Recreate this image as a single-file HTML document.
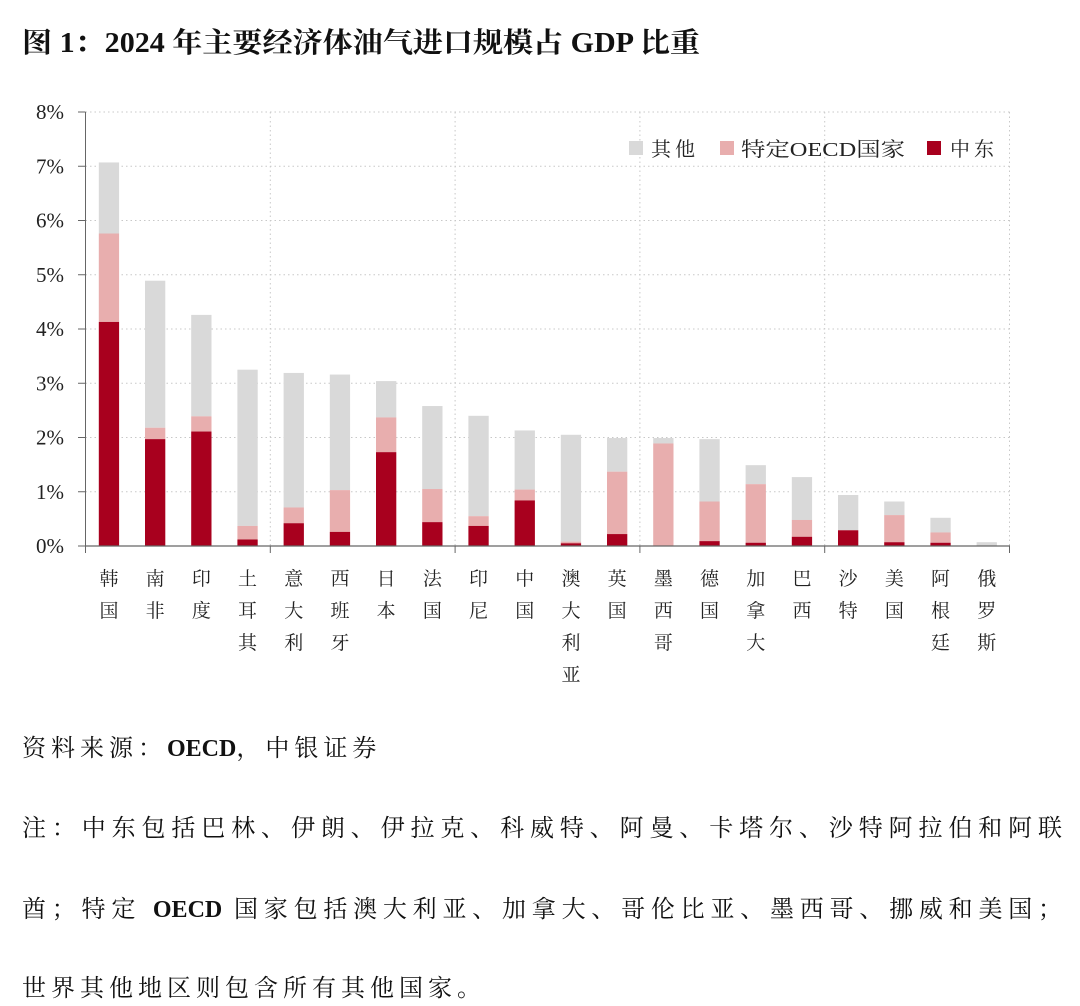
<!DOCTYPE html>
<html><head><meta charset="utf-8"><style>
html,body{margin:0;padding:0;background:#fff;}
body{width:1080px;height:1006px;overflow:hidden;position:relative;}
svg{position:absolute;left:0;top:0;}
.ft{position:absolute;left:22px;font-family:"Liberation Serif","Noto Serif CJK SC",serif;font-size:24px;color:#111;letter-spacing:5px;white-space:nowrap;}
.j{width:1040px;text-align:justify;text-align-last:justify;letter-spacing:0;}
b{font-weight:bold;letter-spacing:0;}
</style></head><body>
<svg width="1080" height="1006" xmlns="http://www.w3.org/2000/svg" font-family="'Liberation Serif','Noto Serif CJK SC',serif">
<text x="22" y="52" font-size="28" font-weight="bold" textLength="678" lengthAdjust="spacingAndGlyphs" fill="#111">图 1：2024 年主要经济体油气进口规模占 GDP 比重</text>
<g id="chart"></g>
</svg>
<div class="ft" style="top:728px;">资料来源：<b>OECD</b>，中银证券</div>
<div class="ft j" style="top:808px;">注：中东包括巴林、伊朗、伊拉克、科威特、阿曼、卡塔尔、沙特阿拉伯和阿联</div>
<div class="ft j" style="top:889px;">酋；特定 <b>OECD</b> 国家包括澳大利亚、加拿大、哥伦比亚、墨西哥、挪威和美国；</div>
<div class="ft" style="top:968px;">世界其他地区则包含所有其他国家。</div>
<script>
var g=document.getElementById('chart'),s='';
var y0=546,k=54.25,x0=85.5,cw=46.2,xe=1010;
for(var i=1;i<=8;i++){var y=y0-i*k;s+='<line x1="'+x0+'" x2="'+xe+'" y1="'+y+'" y2="'+y+'" stroke="#c8c8c8" stroke-width="1" stroke-dasharray="1.5,3"/>';}
for(var j=1;j<=5;j++){var x=x0+j*4*cw;s+='<line x1="'+x+'" x2="'+x+'" y1="'+(y0-8*k)+'" y2="'+y0+'" stroke="#c8c8c8" stroke-width="1" stroke-dasharray="1.5,3"/>';s+='<line x1="'+x+'" x2="'+x+'" y1="'+y0+'" y2="'+(y0+7)+'" stroke="#666"/>';}
for(var i=0;i<=8;i++){var y=y0-i*k;s+='<line x1="78" x2="'+x0+'" y1="'+y+'" y2="'+y+'" stroke="#666"/>';s+='<text x="64" y="'+(y+7)+'" font-size="21" text-anchor="end" fill="#222">'+i+'%</text>';}
var d=[["韩国",4.13,5.76,7.07],["南非",1.97,2.18,4.89],["印度",2.11,2.39,4.26],["土耳其",0.12,0.37,3.25],["意大利",0.42,0.71,3.19],["西班牙",0.26,1.03,3.16],["日本",1.73,2.37,3.04],["法国",0.44,1.05,2.58],["印尼",0.37,0.55,2.40],["中国",0.84,1.04,2.13],["澳大利亚",0.05,0.08,2.05],["英国",0.22,1.37,1.99],["墨西哥",0,1.89,1.99],["德国",0.09,0.82,1.97],["加拿大",0.06,1.14,1.49],["巴西",0.17,0.48,1.27],["沙特",0.29,0.29,0.94],["美国",0.07,0.57,0.82],["阿根廷",0.06,0.25,0.52],["俄罗斯",0,0,0.07]];
d.forEach(function(r,i){var x=x0+13.3+i*cw,w=20.3,cx=x+w/2;
 function b(a,bb,c){if(bb>a)s+='<rect x="'+x+'" y="'+(y0-bb*k)+'" width="'+w+'" height="'+((bb-a)*k)+'" fill="'+c+'"/>';}
 b(r[2],r[3],'#d9d9d9');b(r[1],r[2],'#e8aeae');b(0,r[1],'#a8001e');
 for(var c=0;c<r[0].length;c++)s+='<text x="'+cx+'" y="'+(585+c*32)+'" font-size="19" text-anchor="middle" fill="#222">'+r[0][c]+'</text>';
});
s+='<line x1="'+x0+'" x2="'+x0+'" y1="'+(y0-8*k)+'" y2="'+y0+'" stroke="#666"/>';
s+='<line x1="'+x0+'" x2="'+xe+'" y1="'+y0+'" y2="'+y0+'" stroke="#666" stroke-width="1.2"/>';
s+='<line x1="'+x0+'" x2="'+x0+'" y1="'+y0+'" y2="'+(y0+7)+'" stroke="#666"/>';
s+='<rect x="629" y="141" width="14" height="14" fill="#d9d9d9"/><text x="651" y="156" font-size="20" fill="#222" letter-spacing="4">其他</text>';
s+='<rect x="720" y="141" width="14" height="14" fill="#e8aeae"/><text x="741" y="156" font-size="20" fill="#222" textLength="164" lengthAdjust="spacingAndGlyphs">特定OECD国家</text>';
s+='<rect x="927" y="141" width="14" height="14" fill="#a8001e"/><text x="950" y="156" font-size="20" fill="#222" letter-spacing="4">中东</text>';
g.innerHTML=s;
</script>
</body></html>
